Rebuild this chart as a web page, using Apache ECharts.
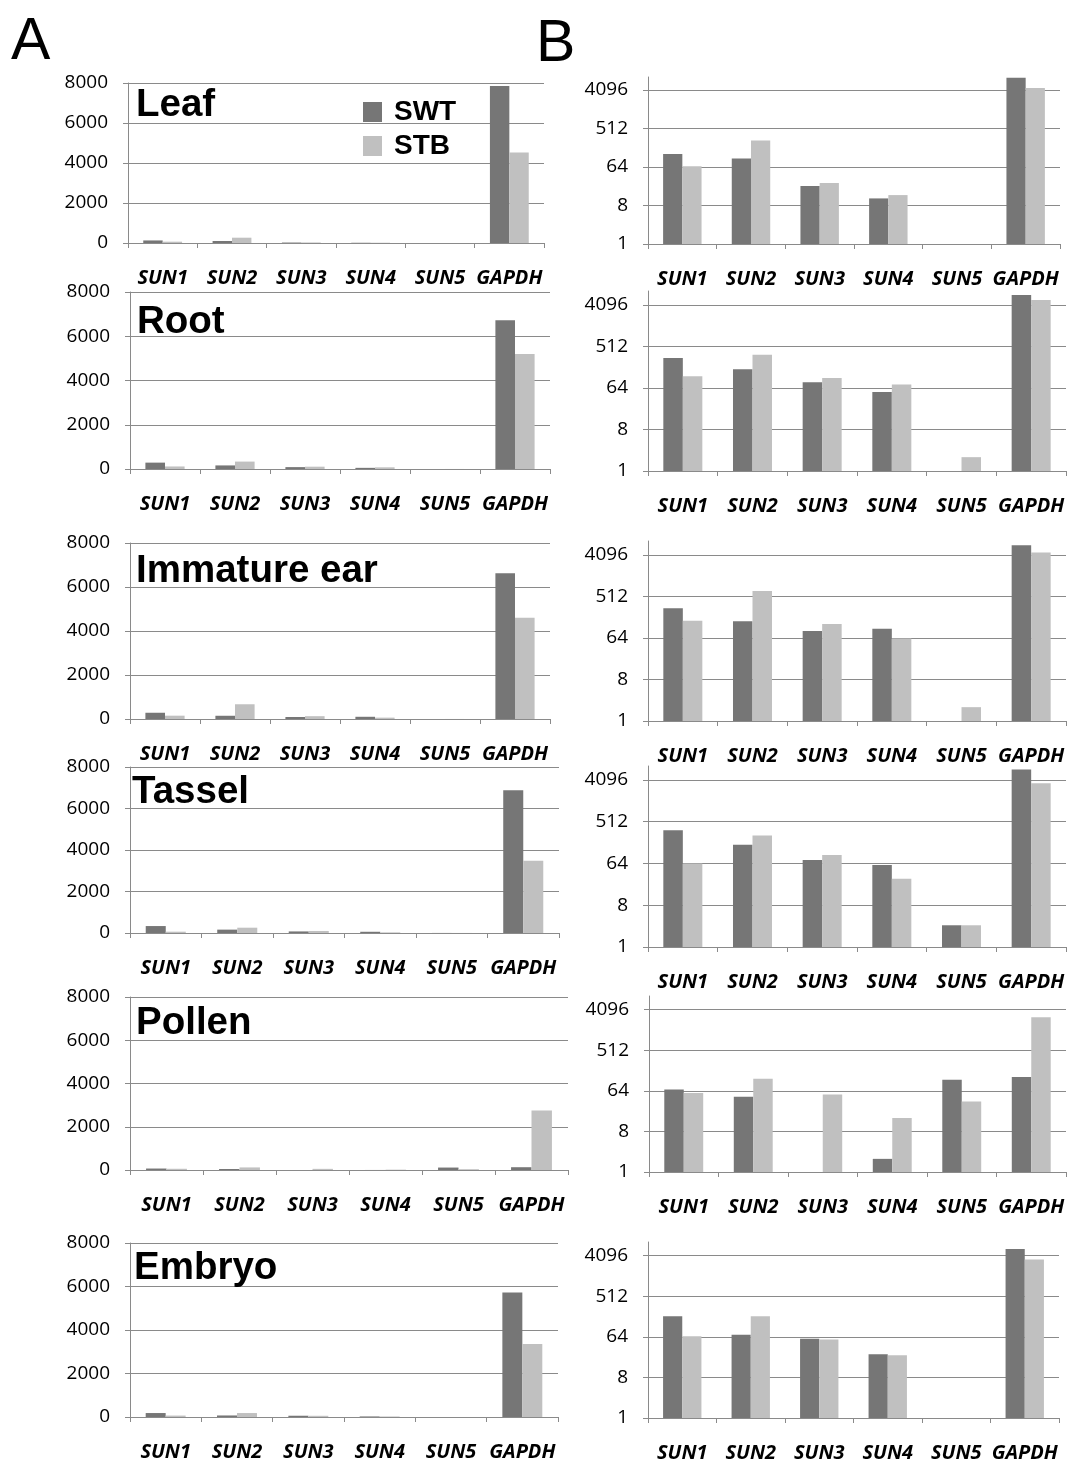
<!DOCTYPE html>
<html>
<head>
<meta charset="utf-8">
<script src="https://cdn.jsdelivr.net/npm/echarts@6/dist/echarts.min.js"></script>
<style>
html,body{margin:0;padding:0;background:#fff;}
#chart{width:1069px;height:1463px;}
</style>
</head>
<body>
<div id="chart"></div>
<script>
// ---- data ----
const categories = ['SUN1', 'SUN2', 'SUN3', 'SUN4', 'SUN5', 'GAPDH'];
const tissues = ['Leaf', 'Root', 'Immature ear', 'Tassel', 'Pollen', 'Embryo'];
const seriesNames = ['SWT', 'STB'];
const leafSWT   = [128, 101, 23, 11.7, 0, 7850];
const leafSTB   = [66, 265, 27, 14, 0, 4520];
const rootSWT   = [288, 162, 85, 52, 0, 6720];
const rootSTB   = [115, 335, 105, 76, 2.0, 5200];
const earSWT    = [284, 147, 90, 101, 0, 6620];
const earSTB    = [151, 670, 128, 62, 2.0, 4600];
const tasselSWT = [335, 162, 76, 59, 2.95, 6880];
const tasselSTB = [64, 256, 98, 30, 2.95, 3480];
const pollenSWT = [68, 47, 0, 1.96, 113, 129];
const pollenSTB = [57, 119, 53, 15.8, 37, 2750];
const embryoSWT = [182, 71, 58, 26, 0, 5720];
const embryoSTB = [66, 182, 56, 25, 0, 3360];
const linearTicks = [0, 2000, 4000, 6000, 8000];
const logTicks = [1, 8, 64, 512, 4096];

const swtData = [leafSWT, rootSWT, earSWT, tasselSWT, pollenSWT, embryoSWT];
const stbData = [leafSTB, rootSTB, earSTB, tasselSTB, pollenSTB, embryoSTB];

// ---- layout (left, right, top, bottom in px) ----
const leftGrids = [
  [128, 544, 83, 243],
  [130, 550, 292, 469],
  [130, 550, 543, 719],
  [130, 559, 767, 933],
  [130, 568, 997, 1170],
  [130, 558, 1243, 1417]
];
const rightGrids = [
  [648, 1060, 77, 244],
  [648, 1066, 291, 471],
  [648, 1066, 541, 721],
  [648, 1066, 766, 947],
  [649, 1066, 996, 1172],
  [648, 1059, 1242, 1419]
];
const titleTops = [86, 303, 552, 773, 1004, 1249];
const titleLefts = [136, 137, 136, 132, 136, 134];

const GRID_COLOR = '#8a8a8a';
const SWT_COLOR = '#767676';
const STB_COLOR = '#c0c0c0';
const W = 1069, H = 1463;

const grids = [], xAxes = [], yAxes = [], series = [], titles = [];

function addPanel(box, isLog, idx) {
  const gi = grids.length;
  grids.push({left: box[0], top: box[2], width: box[1] - box[0], height: box[3] - box[2], containLabel: false});
  xAxes.push({
    type: 'category', gridIndex: gi, data: categories,
    axisLine: {show: true, lineStyle: {color: GRID_COLOR, width: 1}},
    axisTick: {show: true, length: 5, lineStyle: {color: GRID_COLOR}},
    axisLabel: {interval: 0, margin: 25, fontFamily: 'Open Sans', fontWeight: 'bold', fontStyle: 'italic', fontSize: 20, color: '#000'}
  });
  if (isLog) {
    yAxes.push({
      type: 'log', logBase: 8, gridIndex: gi, min: logTicks[0], max: 8192,
      axisLine: {show: true, lineStyle: {color: GRID_COLOR, width: 1}},
      axisTick: {show: true, inside: false, length: 5, lineStyle: {color: GRID_COLOR}},
      splitLine: {show: true, showMaxLine: false, lineStyle: {color: GRID_COLOR, width: 1}},
      axisLabel: {margin: 20, showMaxLabel: false, fontFamily: 'Open Sans', fontSize: 19, color: '#000',
        formatter: v => { const r = Math.round(v); return logTicks.indexOf(r) >= 0 ? String(r) : ''; }}
    });
  } else {
    yAxes.push({
      type: 'value', gridIndex: gi, min: linearTicks[0], max: linearTicks[linearTicks.length - 1], interval: 2000,
      axisLine: {show: true, lineStyle: {color: GRID_COLOR, width: 1}},
      axisTick: {show: true, inside: false, length: 5, lineStyle: {color: GRID_COLOR}},
      splitLine: {show: true, lineStyle: {color: GRID_COLOR, width: 1}},
      axisLabel: {margin: 20, fontFamily: 'Open Sans', fontSize: 19, color: '#000', formatter: v => String(v)}
    });
  }
  const conv = arr => isLog ? arr.map(v => (v > 0 ? v : '-')) : arr.slice();
  series.push({
    name: seriesNames[0], type: 'bar', xAxisIndex: gi, yAxisIndex: gi,
    data: conv(swtData[idx]), itemStyle: {color: SWT_COLOR},
    barGap: '0%', barCategoryGap: '44%', animation: false, silent: true
  });
  series.push({
    name: seriesNames[1], type: 'bar', xAxisIndex: gi, yAxisIndex: gi,
    data: conv(stbData[idx]), itemStyle: {color: STB_COLOR},
    barGap: '0%', barCategoryGap: '44%', animation: false, silent: true
  });
}

for (let i = 0; i < tissues.length; i++) {
  addPanel(leftGrids[i], false, i);
  addPanel(rightGrids[i], true, i);
  titles.push({
    text: tissues[i], left: titleLefts[i], top: titleTops[i], padding: 0,
    textStyle: {fontFamily: 'Liberation Sans', fontWeight: 'bold', fontSize: 38.5, color: '#000'}
  });
}
titles.push({text: 'A', left: 11, top: 13, padding: 0,
  textStyle: {fontFamily: 'Liberation Sans', fontWeight: 'normal', fontSize: 59, color: '#000'}});
titles.push({text: 'B', left: 536, top: 15, padding: 0,
  textStyle: {fontFamily: 'Liberation Sans', fontWeight: 'normal', fontSize: 59, color: '#000'}});

const chart = echarts.init(document.getElementById('chart'), null, {renderer: 'canvas', width: W, height: H});
chart.setOption({
  backgroundColor: '#fff',
  animation: false,
  title: titles,
  legend: {
    data: seriesNames, orient: 'vertical', left: 358, top: 93,
    itemWidth: 19, itemHeight: 20, itemGap: 6, icon: 'rect',
    textStyle: {fontFamily: 'Liberation Sans', fontWeight: 'bold', fontSize: 28, color: '#000', padding: [0, 0, 0, 7]},
    selectedMode: false
  },
  grid: grids,
  xAxis: xAxes,
  yAxis: yAxes,
  series: series
});
</script>
</body>
</html>
